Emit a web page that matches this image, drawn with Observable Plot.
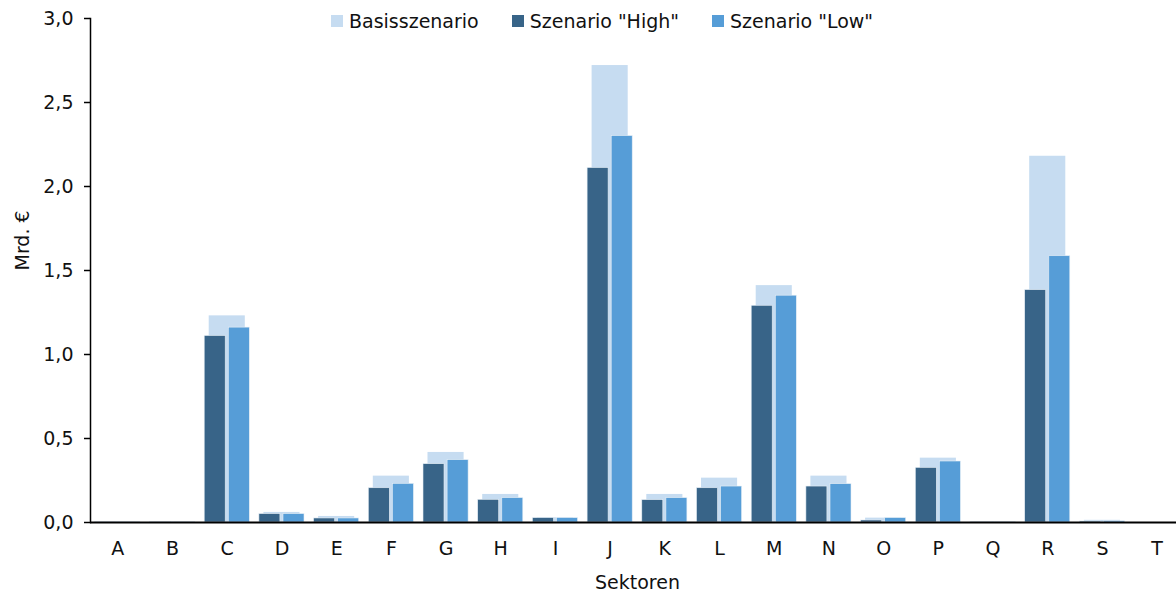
<!DOCTYPE html>
<html>
<head>
<meta charset="utf-8">
<script src="https://cdn.jsdelivr.net/npm/d3@7"></script>
<script src="https://cdn.jsdelivr.net/npm/@observablehq/plot@0.6"></script>
<style>
  html, body { margin: 0; padding: 0; background: #fff; overflow: hidden; width: 1176px; height: 598px; }
  #wrap { position: relative; width: 1176px; height: 598px; overflow: hidden; font-family: "DejaVu Sans", sans-serif; }
  #chart svg { max-width: none !important; display: block; }
  #legend { position: absolute; top: 10px; left: 331px; display: flex; align-items: center; font-size: 19px; color: #111; white-space: nowrap; line-height: 22px; }
  #legend .item { display: flex; align-items: center; }
  #legend .sw { width: 12px; height: 12px; margin-right: 6px; }
</style>
</head>
<body>
<div id="wrap"><div id="chart"></div><div id="legend"></div></div>
<script>
const categories = ["A","B","C","D","E","F","G","H","I","J","K","L","M","N","O","P","Q","R","S","T"];
const basis = [0.003,0.003,1.23,0.06,0.036,0.276,0.417,0.167,0.028,2.72,0.167,0.264,1.41,0.276,0.026,0.383,0.004,2.18,0.013,0];
const high  = [0.002,0.002,1.11,0.05,0.024,0.204,0.347,0.135,0.026,2.11,0.133,0.204,1.29,0.214,0.012,0.325,0.003,1.383,0.006,0];
const low   = [0.002,0.002,1.16,0.05,0.024,0.230,0.371,0.145,0.026,2.30,0.145,0.214,1.35,0.228,0.026,0.363,0.003,1.585,0.007,0];
const seriesNames = ["Basisszenario", "Szenario \"High\"", "Szenario \"Low\""];
const seriesColors = ["#c6dcf1", "#386488", "#569dd7"];
const yTicks = [0, 0.5, 1.0, 1.5, 2.0, 2.5, 3.0];

const rowsBasis = categories.map((c, i) => ({cat: c, v: basis[i]}));
const rowsHigh = categories.map((c, i) => ({cat: c, v: high[i]}));
const rowsLow = categories.map((c, i) => ({cat: c, v: low[i]}));

const fmt = d => d.toFixed(1).replace(".", ",");
const font = "'DejaVu Sans', sans-serif";

const chart = Plot.plot({
  width: 1184,
  height: 598,
  marginLeft: 90,
  marginRight: 0,
  marginTop: 18,
  marginBottom: 76,
  style: {fontFamily: font, fontSize: "19px", color: "#111", background: "white", overflow: "visible"},
  x: {type: "band", domain: categories, padding: 0, round: false, label: null},
  y: {domain: [0, 3], ticks: yTicks, label: null},
  marks: [
    Plot.barY(rowsBasis, {x: "cat", y: "v", fill: seriesColors[0], insetLeft: 9.3, insetRight: 9.3}),
    Plot.barY(rowsHigh, {x: "cat", y: "v", fill: seriesColors[1], insetLeft: 4.8, insetRight: 28.9, stroke: "#e6eef6", strokeWidth: 0.6}),
    Plot.barY(rowsLow, {x: "cat", y: "v", fill: seriesColors[2], insetLeft: 28.9, insetRight: 4.8, stroke: "#e6eef6", strokeWidth: 0.6}),
    Plot.axisX({tickSize: 0, tickPadding: 19, fontSize: 19, label: null}),
    Plot.axisY({ticks: yTicks, tickFormat: fmt, tickSize: 6, tickPadding: 11, fontSize: 19, label: null, stroke: "#000", strokeWidth: 1.5}),
    Plot.frame({anchor: "left", stroke: "#000", strokeWidth: 1.5}),
    Plot.ruleY([0], {stroke: "#000", strokeWidth: 2}),
    Plot.text(["Mrd. €"], {frameAnchor: "left", dx: -68, rotate: -90, fontSize: 19, fill: "#111"}),
    Plot.text(["Sektoren"], {frameAnchor: "bottom", dy: 66, fontSize: 19, fill: "#111"})
  ]
});
document.getElementById("chart").appendChild(chart);

const legend = document.getElementById("legend");
const gaps = [0, 33, 33];
seriesNames.forEach((name, i) => {
  const item = document.createElement("div");
  item.className = "item";
  item.style.marginLeft = gaps[i] + "px";
  const sw = document.createElement("div");
  sw.className = "sw";
  sw.style.background = seriesColors[i];
  const t = document.createElement("span");
  t.textContent = name;
  item.appendChild(sw);
  item.appendChild(t);
  legend.appendChild(item);
});
</script>
</body>
</html>
